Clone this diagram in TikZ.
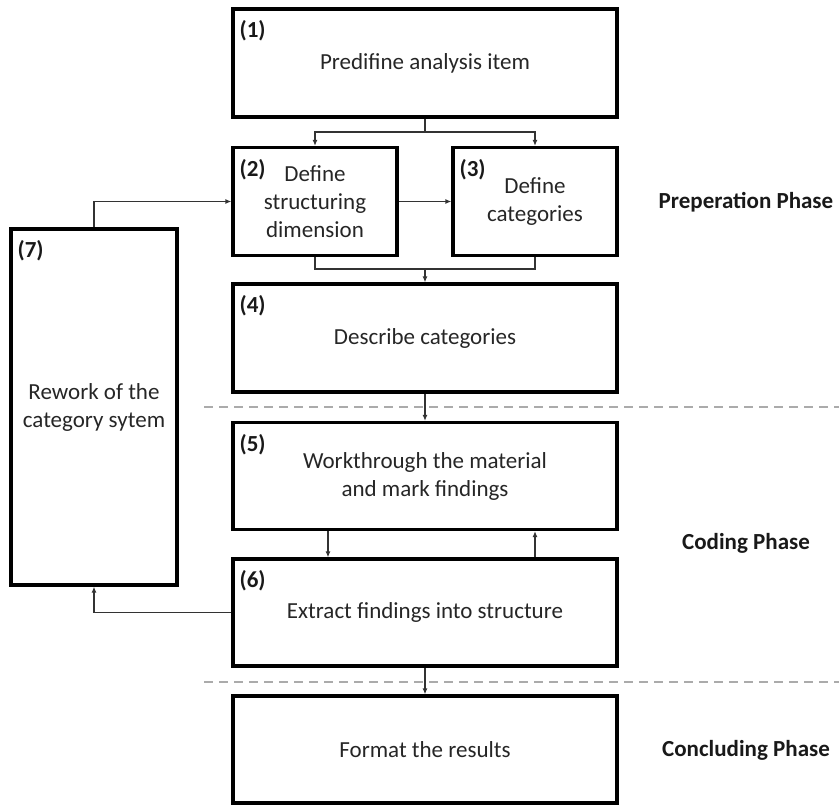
\documentclass[tikz,border=0pt]{standalone}
\usepackage{fontspec}
\setmainfont{Carlito}
\usetikzlibrary{arrows.meta}
\begin{document}
\begin{tikzpicture}[x=1pt,y=-1pt,
  box/.style={draw=black, line width=3.2pt, minimum width=#1, inner sep=0pt, align=center,
    font=\fontsize{23}{28}\selectfont, text=black!85},
  num/.style={anchor=north west, inner sep=0pt, font=\fontsize{23}{28}\selectfont\bfseries, text=black!90},
  phase/.style={inner sep=0pt, font=\fontsize{23}{28}\selectfont\bfseries, text=black!90},
  conn/.style={line width=1.2pt, draw=black!80},
  arr/.style={conn, -{Latex[length=6pt,width=5pt]}},
  sep/.style={line width=1.6pt, draw=black!33, dash pattern=on 9pt off 6pt}
]
\useasboundingbox (0,0) rectangle (839,806);
% boxes
\node[box=384pt, minimum height=108pt] (b1) at (425,63) {Predifine analysis item};
\node[box=164pt, minimum height=108pt] (b2) at (315,201.5) {Define\\structuring\\dimension};
\node[box=164pt, minimum height=108pt] (b3) at (535,201.5) {Define\\categories};
\node[box=384pt, minimum height=108pt] (b4) at (425,338) {Describe categories};
\node[box=384pt, minimum height=107pt] (b5) at (425,476) {Workthrough the material\\and mark findings};
\node[box=384pt, minimum height=107pt] (b6) at (425,612.5) {Extract findings into structure};
\node[box=384pt, minimum height=107pt] (b8) at (425,749.5) {Format the results};
\node[box=166pt, minimum height=356pt] (b7) at (94,407) {Rework of the\\category sytem};
% numbers
\node[num] (l1) at ([xshift=8pt,yshift=-13pt]b1.north west) {(1)};
\node[num] (l2) at ([xshift=8pt,yshift=-13pt]b2.north west) {(2)};
\node[num] (l3) at ([xshift=8pt,yshift=-13pt]b3.north west) {(3)};
\node[num] (l4) at ([xshift=8pt,yshift=-13pt]b4.north west) {(4)};
\node[num] (l5) at ([xshift=8pt,yshift=-13pt]b5.north west) {(5)};
\node[num] (l6) at ([xshift=8pt,yshift=-13pt]b6.north west) {(6)};
\node[num] (l7) at ([xshift=8pt,yshift=-13pt]b7.north west) {(7)};
% phases
\node[phase] (p1) at (746,202) {Preperation Phase};
\node[phase] (p2) at (746,543) {Coding Phase};
\node[phase] (p3) at (746,750) {Concluding Phase};
% separators
\draw[sep] (204,407) -- (839,407);
\draw[sep] (204,682) -- (839,682);
% connectors
\coordinate (j1) at (425,132);
\coordinate (j2) at (425,269);
\draw[conn] (b1.south) -- (j1);
\draw[arr] (j1) -| (b2.north);
\draw[arr] (j1) -| (b3.north);
\draw[arr] (b2.east) -- (b3.west);
\draw[arr] (b7.north) |- (b2.west);
\draw[conn] (b2.south) |- (j2) -| (b3.south);
\draw[arr] (j2) -- (b4.north);
\draw[arr] (b4.south) -- (b5.north);
\draw[arr] ([xshift=-97pt]b5.south) -- ([xshift=-97pt]b6.north);
\draw[arr] ([xshift=110pt]b6.north) -- ([xshift=110pt]b5.south);
\draw[arr] (b6.west) -| (b7.south);
\draw[arr] (b6.south) -- (b8.north);
\end{tikzpicture}
\end{document}
